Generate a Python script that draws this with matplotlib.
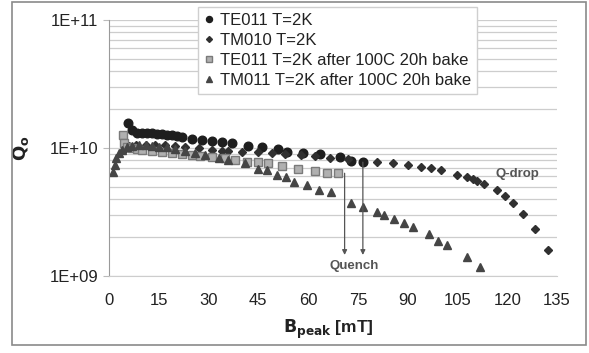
import matplotlib
matplotlib.use("Agg")
import matplotlib.pyplot as plt
from matplotlib.patches import Rectangle

plt.rcParams['font.family'] = ['Liberation Sans', 'DejaVu Sans']

# ---- data (B_peak in mT, Q0) ----
te011_x = [5.7, 6.9, 8.5, 10, 11.5, 13, 14.5, 16, 17.5, 19, 20.5, 22, 25, 28, 31, 34, 37,
           42, 46, 51, 53.6, 58.5, 63.5, 69.6, 73, 76.5]
te011_q = [1.57e10, 1.38e10, 1.31e10, 1.31e10, 1.31e10, 1.31e10, 1.29e10, 1.29e10, 1.27e10,
           1.27e10, 1.25e10, 1.22e10, 1.18e10, 1.155e10, 1.13e10, 1.11e10, 1.09e10,
           1.04e10, 1.02e10, 0.98e10, 0.93e10, 0.91e10, 0.896e10, 0.85e10, 0.79e10, 0.775e10]

tm010_x = [4.5, 6, 8, 11, 14, 17, 20, 23, 27, 31, 34, 36, 40, 45, 49, 53, 58, 62, 66.5, 72,
           80.7, 85.5, 90, 94, 97, 100, 105, 108, 109.6, 111, 113, 116.8, 119.3, 121.7,
           124.7, 128.3, 132.2]
tm010_q = [9.6e9, 1.04e10, 1.06e10, 1.06e10, 1.06e10, 1.06e10, 1.04e10, 1.02e10, 1.0e10,
           9.7e9, 9.5e9, 9.5e9, 9.3e9, 9.3e9, 9.1e9, 9.0e9, 8.8e9, 8.7e9, 8.3e9, 8.2e9,
           7.75e9, 7.6e9, 7.4e9, 7.1e9, 7.0e9, 6.7e9, 6.2e9, 5.9e9, 5.7e9, 5.5e9, 5.2e9,
           4.7e9, 4.22e9, 3.72e9, 3.05e9, 2.33e9, 1.6e9]

te011b_x = [4.2, 4.5, 5.5, 7, 8.5, 10, 13, 16, 19, 22, 25, 27.4, 31, 35, 38, 41.5, 45, 48,
            52, 57, 62, 65.7, 69]
te011b_q = [1.26e10, 1.1e10, 1.02e10, 1.0e10, 9.9e9, 9.7e9, 9.5e9, 9.3e9, 9.1e9, 8.9e9,
            8.8e9, 8.6e9, 8.5e9, 8.3e9, 8.1e9, 7.8e9, 7.8e9, 7.6e9, 7.2e9, 6.85e9, 6.6e9,
            6.35e9, 6.35e9]

tm011b_x = [1.2, 1.8, 2.2, 3, 4, 5.5, 7, 9, 11, 13, 15, 17.5, 20, 23, 26, 29, 33, 36, 41,
            45, 47.5, 50.6, 53.3, 55.7, 59.6, 63.3, 67, 73, 76.5, 80.7, 83, 86, 89, 91.6,
            96.4, 99, 101.8, 107.8, 111.7]
tm011b_q = [6.5e9, 7.4e9, 8.3e9, 9.1e9, 9.7e9, 1.02e10, 1.04e10, 1.06e10, 1.06e10, 1.04e10,
            1.02e10, 1.02e10, 9.9e9, 9.5e9, 9.1e9, 8.8e9, 8.3e9, 8.1e9, 7.6e9, 6.9e9, 6.7e9,
            6.2e9, 5.93e9, 5.42e9, 5.1e9, 4.7e9, 4.5e9, 3.7e9, 3.44e9, 3.15e9, 3.0e9, 2.8e9,
            2.58e9, 2.4e9, 2.12e9, 1.87e9, 1.75e9, 1.41e9, 1.17e9]

labels = ["TE011 T=2K", "TM010 T=2K", "TE011 T=2K after 100C 20h bake",
          "TM011 T=2K after 100C 20h bake"]
x_ticks = [0, 15, 30, 45, 60, 75, 90, 105, 120, 135]
y_ticks = [1e9, 1e10, 1e11]
y_ticklabels = ["1E+09", "1E+10", "1E+11"]

# quench annotations: (x, Q at start)
quench_x = [71, 76.5]
quench_top = [6.35e9, 7.75e9]
quench_bottom = 1.46e9

W, H = 589, 353
fig = plt.figure(figsize=(W / 100, H / 100), dpi=100)
ax = fig.add_axes([109 / W, 1 - 276 / H, (557 - 109) / W, (276 - 20) / H])

ax.set_yscale('log')
ax.set_xlim(0, 135)
ax.set_ylim(1e9, 1e11)

# gridlines at major + minor
ax.yaxis.grid(True, which='both', color='#cdcdcd', linewidth=0.9)
ax.xaxis.grid(False)
ax.set_axisbelow(True)

for s in ['top', 'right']:
    ax.spines[s].set_visible(False)
ax.spines['left'].set_color('#9a9a9a')
ax.spines['bottom'].set_color('#cdcdcd')

h1, = ax.plot(te011_x, te011_q, 'o', color='#1e1e1e', ms=6.2, mec='#1e1e1e', label=labels[0])
h2, = ax.plot(tm010_x, tm010_q, 'D', color='#303030', ms=4.3, mec='#303030', label=labels[1])
h3, = ax.plot(te011b_x, te011b_q, 's', color='#b0b0b0', ms=5.6, mec='#7a7a7a', mew=1.0,
              label=labels[2])
h4, = ax.plot(tm011b_x, tm011b_q, '^', color='#454545', ms=6.2, mec='#454545', label=labels[3])

ax.set_xticks(x_ticks)
ax.set_xticklabels([str(v) for v in x_ticks])
ax.set_yticks(y_ticks)
ax.set_yticklabels(y_ticklabels)
ax.yaxis.set_minor_formatter(matplotlib.ticker.NullFormatter())
ax.tick_params(axis='both', which='major', labelsize=12, colors='#bbbbbb',
               labelcolor='#222222', length=4)
ax.tick_params(axis='y', which='minor', length=0)
ax.tick_params(axis='x', which='major', length=0, pad=12)

ax.set_xlabel(r'$\mathbf{B_{peak}}$ [mT]', fontsize=12.5, fontweight='bold', color='#222222',
              labelpad=2)
ax.xaxis.set_label_coords(0.49, -0.165)
ax.set_ylabel(r'$\mathbf{Q_o}$', fontsize=13, color='#222222', labelpad=4)
ax.yaxis.set_label_coords(-0.175, 0.5)

# Quench arrows
for qx, qt in zip(quench_x, quench_top):
    ax.annotate('', xy=(qx, quench_bottom), xytext=(qx, qt),
                arrowprops=dict(arrowstyle='-|>', color='#555555', lw=0.9,
                                mutation_scale=7, shrinkA=0, shrinkB=0))
ax.text(74, 1.2e9, 'Quench', ha='center', va='center', fontsize=9.5, color='#555555',
        fontweight='bold')
ax.text(123, 6.3e9, 'Q-drop', ha='center', va='center', fontsize=9.5, color='#555555',
        fontweight='bold')

leg = fig.legend(handles=[h1, h2, h3, h4], loc='upper left',
                 bbox_to_anchor=(198 / W, 1 - 7 / H), borderaxespad=0, fontsize=12,
                 frameon=True, fancybox=False, edgecolor='#cfcfcf', framealpha=1,
                 handlelength=0.6, handletextpad=0.4, labelspacing=0.3, borderpad=0.35,
                 markerscale=0.7)
for t in leg.get_texts():
    t.set_color('#222222')

# figure border
fig.patches.append(Rectangle((12 / W, 1 - 345 / H), (586 - 12) / W, (345 - 2) / H,
                             transform=fig.transFigure, fill=False, edgecolor='#8a8a8a',
                             linewidth=1.2))

fig.savefig('out.png', dpi=100)
